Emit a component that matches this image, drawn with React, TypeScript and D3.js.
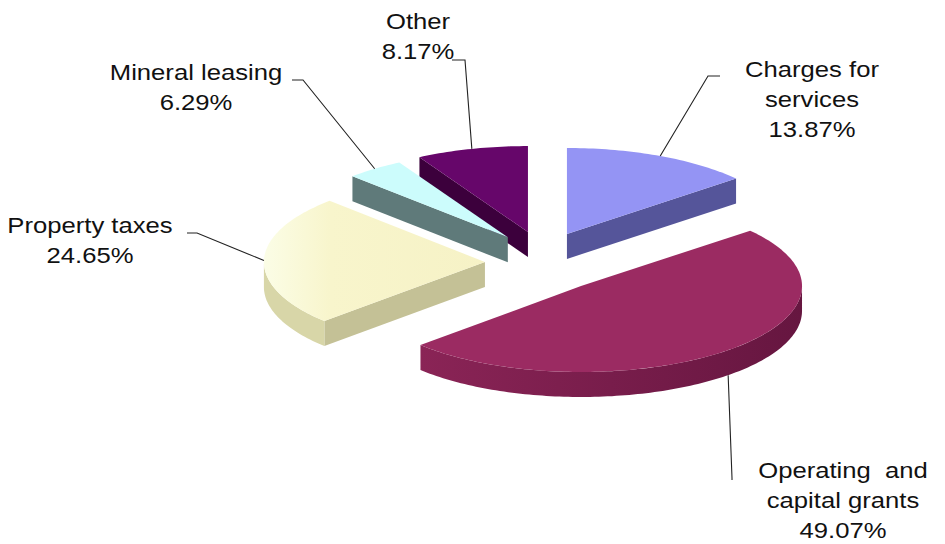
import React from "react";
import * as d3 from "d3";

// ---- data ----
const categories = ["Charges for services", "Operating and capital grants", "Property taxes", "Mineral leasing", "Other"];
// slice sizes as drawn in the picture (share of the circle, %)
const values = [13.87, 49.07, 24.65, 4.24, 8.17];
// percentages as printed on the labels
const labelPercents = ["13.87%", "49.07%", "24.65%", "6.29%", "8.17%"];
const labelLines = [
  ["Charges for", "services"],
  ["Operating  and", "capital grants"],
  ["Property taxes"],
  ["Mineral leasing"],
  ["Other"],
];

// ---- styles / layout ----
const topColors = ["#9494f4", "#9b2b62", "#f8f5cc", "#ccfcfc", "#66066a"];
const sideColors = ["#55559a", "#6e1a45", "#c4c196", "#5f7a7a", "#3c003c"];
const curveColors = ["#6a6ab8", "#7a1d4c", "#d8d6a8", "#7a9a9a", "#4a004a"];
// label layout: text center x, first baseline y, leader start, elbow
const labelLayout = [
  { x: 812, y: 77, start: [720, 76], elbow: [708, 76] },
  { x: 843, y: 478, start: [732, 480], elbow: [732, 478] },
  { x: 90, y: 233, start: [187, 233], elbow: [197, 233] },
  { x: 196, y: 80, start: [292, 80], elbow: [303, 80] },
  { x: 418, y: 29, start: [452, 60], elbow: [465, 60] },
];

const W = 945, H = 544;
const CX = 542.6, CY = 262.5, R = 221, K = 0.389, EX = 57.7, EY = 31.5, DEPTH = 25;
const LINE_H = 30;
const FONT = 22.5;
const SX = 1.14;

function pt(m: number, th: number, r: number, h: number): [number, number] {
  return [
    CX + EX * Math.sin(m) + r * R * Math.sin(th),
    CY - EY * Math.cos(m) - r * R * K * Math.cos(th) + h,
  ];
}

function arcPts(m: number, a0: number, a1: number, h: number) {
  const n = Math.max(2, Math.ceil(Math.abs(a1 - a0) / 0.02));
  const out: [number, number][] = [];
  for (let i = 0; i <= n; i++) out.push(pt(m, a0 + ((a1 - a0) * i) / n, 1, h));
  return out;
}

const toPath = (p: [number, number][]) => "M" + p.map((d) => d[0].toFixed(2) + "," + d[1].toFixed(2)).join("L") + "Z";

export default function App() {
  const pie = d3.pie<number>().sort(null).startAngle(0).endAngle(2 * Math.PI);
  const arcs = pie(values);

  const slices = arcs.map((a, i) => {
    const m = (a.startAngle + a.endAngle) / 2;
    const a0 = a.startAngle, a1 = a.endAngle;
    const faces: { d: string; fill: string }[] = [];
    if (Math.cos(a0 - Math.PI / 2) < -1e-6) {
      faces.push({ d: toPath([pt(m, 0, 0, 0), pt(m, a0, 1, 0), pt(m, a0, 1, DEPTH), pt(m, 0, 0, DEPTH)]), fill: sideColors[i] });
    }
    if (Math.cos(a1 + Math.PI / 2) < -1e-6) {
      faces.push({ d: toPath([pt(m, 0, 0, 0), pt(m, a1, 1, 0), pt(m, a1, 1, DEPTH), pt(m, 0, 0, DEPTH)]), fill: sideColors[i] });
    }
    const s = Math.max(a0, Math.PI / 2), e = Math.min(a1, (3 * Math.PI) / 2);
    if (e > s) {
      const top = arcPts(m, s, e, 0);
      const bot = arcPts(m, s, e, DEPTH).reverse();
      faces.push({ d: toPath([...top, ...bot]), fill: curveColors[i] });
    }
    const topFace = toPath([pt(m, 0, 0, 0), ...arcPts(m, a0, a1, 0)]);
    const front = Math.cos(m) < -0.5;
    const anchor = pt(m, m, 1, front ? DEPTH : 0);
    return { i, m, faces, topFace, anchor, depth: Math.cos(m) };
  });

  const order = [...slices].sort((a, b) => b.depth - a.depth);

  return (
    <svg width={W} height={H} style={{ position: "absolute", left: 0, top: 0, background: "#fff" }}>
      <title>{categories.join(", ")}</title>
      <defs>
        <linearGradient id="propFade" x1="0" x2="1" y1="0" y2="0">
          <stop offset="0" stopColor="#fbfde6" />
          <stop offset="0.3" stopColor="#f8f5cc" />
          <stop offset="1" stopColor="#f6f2c6" />
        </linearGradient>
        <linearGradient id="opSide" x1="0" x2="1" y1="0" y2="0">
          <stop offset="0" stopColor="#8a2456" />
          <stop offset="1" stopColor="#661640" />
        </linearGradient>
      </defs>
      <rect width={W} height={H} fill="#ffffff" />
      {order.map((s) => (
        <g key={s.i}>
          {s.faces.map((f, j) => (
            <path key={j} d={f.d} fill={s.i === 1 && f.fill === curveColors[1] ? "url(#opSide)" : f.fill} />
          ))}
          <path d={s.topFace} fill={s.i === 2 ? "url(#propFade)" : topColors[s.i]} />
        </g>
      ))}
      {slices.map((s) => {
        const L = labelLayout[s.i];
        const pts = [L.start, L.elbow, s.anchor];
        return (
          <polyline key={"l" + s.i} points={pts.map((p) => p.join(",")).join(" ")} fill="none" stroke="#222" strokeWidth={1.1} />
        );
      })}
      {slices.map((s) => {
        const L = labelLayout[s.i];
        const lines = [...labelLines[s.i], labelPercents[s.i]];
        return (
          <g key={"t" + s.i} transform={`translate(${L.x},0)`}>
            <text
              transform={`scale(${SX},1)`}
              textAnchor="middle"
              fontFamily="'Liberation Sans', Arial, sans-serif"
              fontSize={FONT}
              fill="#111"
              style={{ whiteSpace: "pre" }}
            >
              {lines.map((t, k) => (
                <tspan key={k} x={0} y={L.y + k * LINE_H}>
                  {t}
                </tspan>
              ))}
            </text>
          </g>
        );
      })}
    </svg>
  );
}
